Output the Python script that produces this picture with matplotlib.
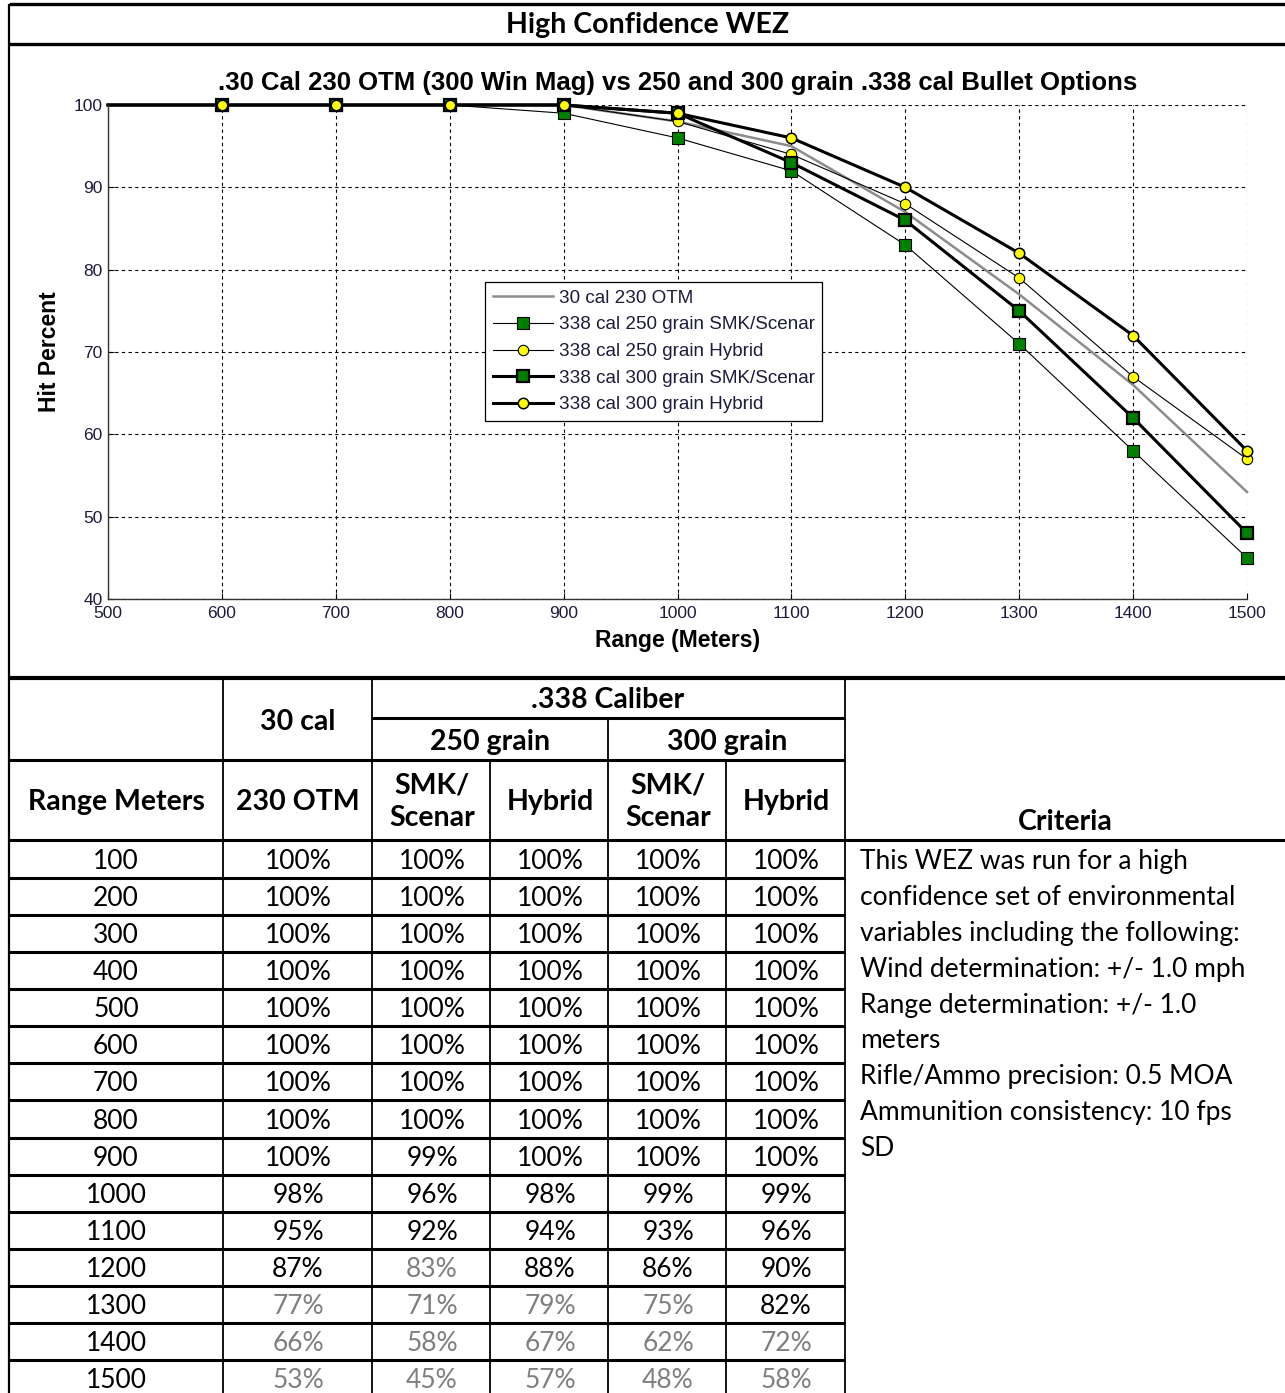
import numpy as np
import matplotlib
matplotlib.use("Agg")
import matplotlib.pyplot as plt

ranges = np.array([100, 200, 300, 400, 500, 600, 700, 800, 900, 1000, 1100, 1200, 1300, 1400, 1500])
cal30_230 = [100, 100, 100, 100, 100, 100, 100, 100, 100, 98, 95, 87, 77, 66, 53]
smk_250 = [100, 100, 100, 100, 100, 100, 100, 100, 99, 96, 92, 83, 71, 58, 45]
hyb_250 = [100, 100, 100, 100, 100, 100, 100, 100, 100, 98, 94, 88, 79, 67, 57]
smk_300 = [100, 100, 100, 100, 100, 100, 100, 100, 100, 99, 93, 86, 75, 62, 48]
hyb_300 = [100, 100, 100, 100, 100, 100, 100, 100, 100, 99, 96, 90, 82, 72, 58]

# cells printed in grey in the table (range, column index 0..4)
grey_cells = [(1200, 1), (1300, 0), (1300, 1), (1300, 2), (1300, 3),
              (1400, 0), (1400, 1), (1400, 2), (1400, 3), (1400, 4),
              (1500, 0), (1500, 1), (1500, 2), (1500, 3), (1500, 4)]

series_labels = ['30 cal 230 OTM', '338 cal 250 grain SMK/Scenar', '338 cal 250 grain Hybrid',
                 '338 cal 300 grain SMK/Scenar', '338 cal 300 grain Hybrid']

criteria_lines = ['This WEZ was run for a high', 'confidence set of environmental',
                  'variables including the following:', 'Wind determination: +/- 1.0 mph',
                  'Range determination: +/- 1.0', 'meters', 'Rifle/Ammo precision: 0.5 MOA',
                  'Ammunition consistency: 10 fps', 'SD']

W, H = 1285, 1393
fig = plt.figure(figsize=(W / 100, H / 100), dpi=100)
fig.patch.set_facecolor('white')

# overlay in pixel coords for the boxes and table
ov = fig.add_axes([0, 0, 1, 1])
ov.set_xlim(0, W)
ov.set_ylim(H, 0)
ov.axis('off')

tfont = ['Lato', 'DejaVu Sans']
tsize = 19
bsize = 20.5

def hline(y, x0, x1, lw=2.2):
    ov.plot([x0, x1], [y, y], color='black', lw=lw, solid_capstyle='butt')

def vline(x, y0, y1, lw=1.3):
    ov.plot([x, x], [y0, y1], color='black', lw=lw, solid_capstyle='butt')

# outer frame
hline(4, 9, W, 2.4)
hline(44, 9, W, 2.4)
hline(678, 9, W, 3.0)
vline(9, 4, H, 1.6)

ov.text(648, 25, 'High Confidence WEZ', ha='center', va='center', fontsize=bsize,
        fontweight='bold', family=tfont)

# table grid
hline(718, 372, 845)
hline(760, 9, 845)
hline(840, 9, W)
for x in [223, 372, 845]:
    vline(x, 678, H)
vline(608, 718, H)
vline(490, 760, H)
vline(726, 760, H)

row_top = 841
row_h = 37.07
for i in range(1, len(ranges)):
    hline(row_top + i * row_h, 9, 845)

# header text
hk = dict(ha='center', va='center', fontsize=bsize, fontweight='bold', family=tfont)
ov.text(298, 722, '30 cal', **hk)
ov.text(608, 700, '.338 Caliber', **hk)
ov.text(490, 742, '250 grain', **hk)
ov.text(727, 742, '300 grain', **hk)
ov.text(116, 802, 'Range Meters', **hk)
ov.text(298, 802, '230 OTM', **hk)
ov.text(432, 802, 'SMK/\nScenar', linespacing=1.3, **hk)
ov.text(550, 802, 'Hybrid', **hk)
ov.text(668, 802, 'SMK/\nScenar', linespacing=1.3, **hk)
ov.text(786, 802, 'Hybrid', **hk)
ov.text(1065, 822, 'Criteria', **hk)

# body
centers = [116, 298, 432, 550, 668, 786]
table_cols = [cal30_230, smk_250, hyb_250, smk_300, hyb_300]
for i, r in enumerate(ranges):
    y = row_top + (i + 0.5) * row_h + 2
    ov.text(centers[0], y, str(r), ha='center', va='center', fontsize=tsize, family=tfont)
    for j, col in enumerate(table_cols):
        c = '#7f7f7f' if (r, j) in grey_cells else 'black'
        ov.text(centers[j + 1], y, f'{col[i]}%', ha='center', va='center',
                fontsize=tsize, family=tfont, color=c)

for k, line in enumerate(criteria_lines):
    ov.text(860, 862 + k * 35.8, line, ha='left', va='center', fontsize=tsize, family=tfont)

# chart
cfont = 'Liberation Sans'
ax = fig.add_axes([108 / W, 1 - 599 / H, (1247 - 108) / W, (599 - 105) / H])
ax.set_facecolor('none')

sel = ranges >= 500
x = ranges[sel]
mk = list(range(1, len(x)))

def sub(v):
    return np.array(v)[sel]

ax.plot(x, sub(cal30_230), color='#8c8c8c', lw=1.8, label=series_labels[0], clip_on=False)
ax.plot(x, sub(smk_250), color='black', lw=0.8, marker='s', ms=8, mfc='#008000', mec='black',
        mew=0.8, markevery=mk, label=series_labels[1], clip_on=False)
ax.plot(x, sub(hyb_250), color='black', lw=0.8, marker='o', ms=7.5, mfc='yellow', mec='black',
        mew=0.8, markevery=mk, label=series_labels[2], clip_on=False)
ax.plot(x, sub(smk_300), color='black', lw=2.2, marker='s', ms=8.5, mfc='#008000', mec='black',
        mew=1.6, markevery=mk, label=series_labels[3], clip_on=False)
ax.plot(x, sub(hyb_300), color='black', lw=2.2, marker='o', ms=7.5, mfc='yellow', mec='black',
        mew=1.1, markevery=mk, label=series_labels[4], clip_on=False)

ax.set_xlim(500, 1500)
ax.set_ylim(40, 100)
ax.set_xticks(np.arange(500, 1501, 100))
ax.set_yticks(np.arange(40, 101, 10))
ax.grid(True, color='black', lw=0.8, ls=(0, (3, 3)))
for s in ['top', 'right']:
    ax.spines[s].set_visible(False)
for s in ['left', 'bottom']:
    ax.spines[s].set_color('#333333')
    ax.spines[s].set_linewidth(1.0)
ax.tick_params(direction='in', length=4, labelsize=12.5, labelcolor='#1c1c3c', pad=4)
ax.tick_params(axis='x', pad=5)
for t in ax.get_xticklabels() + ax.get_yticklabels():
    t.set_family(cfont)

ax.set_title('.30 Cal 230 OTM (300 Win Mag) vs 250 and 300 grain .338 cal Bullet Options',
             fontsize=18.5, fontweight='bold', family=cfont, pad=11)
ax.set_xlabel('Range (Meters)', fontsize=16.5, fontweight='bold', family=cfont, labelpad=6)
ax.set_ylabel('Hit Percent', fontsize=16.5, fontweight='bold', family=cfont, labelpad=9)

leg = ax.legend(loc='upper left', bbox_to_anchor=((485 - 108) / 1139, (599 - 282) / 494),
                borderaxespad=0, fancybox=False, framealpha=1, edgecolor='black',
                prop={'family': cfont, 'size': 13.6}, handlelength=3.2, handletextpad=0.3,
                labelspacing=0.5, borderpad=0.4)
leg.get_frame().set_linewidth(0.9)
for t in leg.get_texts():
    t.set_color('#1c1c3c')

fig.savefig('out.png', dpi=100)
